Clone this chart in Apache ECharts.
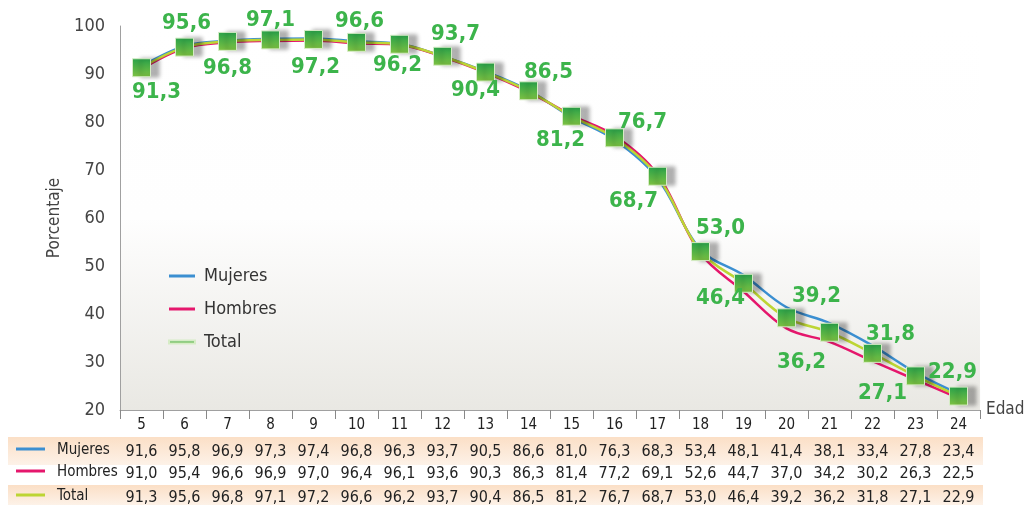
<!DOCTYPE html>
<html>
<head>
<meta charset="utf-8">
<script src="https://cdn.jsdelivr.net/npm/echarts@6/dist/echarts.min.js"></script>
<style>html,body{margin:0;padding:0;background:#fff;overflow:hidden;}#c{width:1024px;height:505px;}</style>
</head>
<body>
<div id="c"></div>
<script>
const categories = ['5','6','7','8','9','10','11','12','13','14','15','16','17','18','19','20','21','22','23','24'];
const mujeres = [91.6,95.8,96.9,97.3,97.4,96.8,96.3,93.7,90.5,86.6,81.0,76.3,68.3,53.4,48.1,41.4,38.1,33.4,27.8,23.4];
const hombres = [91.0,95.4,96.6,96.9,97.0,96.4,96.1,93.6,90.3,86.3,81.4,77.2,69.1,52.6,44.7,37.0,34.2,30.2,26.3,22.5];
const total   = [91.3,95.6,96.8,97.1,97.2,96.6,96.2,93.7,90.4,86.5,81.2,76.7,68.7,53.0,46.4,39.2,36.2,31.8,27.1,22.9];
const seriesNames = ['Mujeres','Hombres','Total'];

// label placement (style only)
const labelOffsets = [[15,25],[2,-24],[0,27],[0,-20],[2,28],[3,-21],[-2,21],[13,-22],[-10,18],[20,-19],
  [-11,24],[28,-16],[-24,25],[20,-23],[-23,15],[30,-22],[-28,30],[18,-19],[-33,17],[-6,-24]];

const COLORS = ['#3b8fd1','#e5176c','#bdd534'];
const FONT = '"Liberation Sans Narrow","DejaVu Sans Condensed","Liberation Sans",sans-serif';
const fmt = v => v.toFixed(1).replace('.', ',');

const chart = echarts.init(document.getElementById('c'), null, {renderer:'canvas'});

const rowAxes = [mujeres, hombres, total].map((arr, k) => ({
  type:'category', data:categories, position:'bottom', gridIndex:0,
  offset:[42,64,88][k],
  axisLine:{show:false}, axisTick:{show:false}, splitLine:{show:false},
  axisLabel:{margin:0, verticalAlign:'middle', fontFamily:FONT, fontSize:16, color:'#222',
    formatter:(v,i)=>fmt(arr[i])}
}));

const rowYs = [452,474,498];
const peach = () => new echarts.graphic.LinearGradient(0,0,0,1,[{offset:0,color:'#fbdfc6'},{offset:1,color:'#fdf2e8'}]);
const graphics = [
  {type:'rect', z:-10, shape:{x:8,y:437,width:975,height:28}, style:{fill:peach()}},
  {type:'rect', z:-10, shape:{x:8,y:485,width:975,height:20}, style:{fill:peach()}}
];
seriesNames.forEach((n,k)=>{
  graphics.push({type:'line', shape:{x1:16,y1:rowYs[k]-3,x2:45,y2:rowYs[k]-3}, style:{stroke:COLORS[k], lineWidth:3}});
  graphics.push({type:'text', left:57, top:rowYs[k]-9, style:{text:n, font:'15px '+FONT, fill:'#222'}});
});

const option = {
  animation:false,
  backgroundColor:'#fff',
  grid:{left:120, right:44, top:26, bottom:95, show:true, borderWidth:0, outerBoundsMode:'none', containLabel:false,
    backgroundColor:new echarts.graphic.LinearGradient(0,0,0,1,[
      {offset:0,color:'#ffffff'},{offset:0.5,color:'#fefefe'},{offset:1,color:'#e9e8e3'}])},
  legend:{orient:'vertical', left:163, top:262, itemGap:15, itemWidth:26, itemHeight:3, icon:'rect',
    data:seriesNames, textStyle:{fontFamily:FONT, fontSize:18, color:'#333', padding:[0,0,0,4]}},
  xAxis:[{
    type:'category', data:categories, boundaryGap:true,
    name:'Edad', nameLocation:'end', nameGap:6,
    nameTextStyle:{fontFamily:FONT, fontSize:17, color:'#444', verticalAlign:'middle', padding:[6,0,0,0]},
    axisLine:{lineStyle:{color:'#a0a0a0', width:1}},
    axisTick:{show:true, length:9, lineStyle:{color:'#888'}},
    axisLabel:{fontFamily:FONT, fontSize:15, color:'#222', margin:8},
    splitLine:{show:false}
  }].concat(rowAxes),
  yAxis:{type:'value', min:20, max:100, interval:10,
    name:'Porcentaje', nameLocation:'middle', nameGap:56,
    nameTextStyle:{fontFamily:FONT, fontSize:17, color:'#444'},
    axisLine:{show:true, lineStyle:{color:'#a0a0a0'}},
    axisTick:{show:false},
    axisLabel:{fontFamily:FONT, fontSize:18, color:'#444', margin:15},
    splitLine:{show:false}},
  graphic:graphics,
  series:[
    {name:'Mujeres', type:'line', data:mujeres, smooth:0.35, symbol:'none', lineStyle:{color:COLORS[0], width:2.5}, itemStyle:{color:COLORS[0]}, z:2},
    {name:'Hombres', type:'line', data:hombres, smooth:0.35, symbol:'none', lineStyle:{color:COLORS[1], width:2.5}, itemStyle:{color:COLORS[1]}, z:3},
    {name:'Total', type:'line', smooth:0.35, symbol:'rect', symbolSize:18, z:4,
      lineStyle:{color:COLORS[2], width:2.5},
      itemStyle:{
        color:new echarts.graphic.LinearGradient(0,0,0,1,[{offset:0,color:'#28a24a'},{offset:1,color:'#7fc242'}]),
        borderColor:'#d6ecc6', borderWidth:1,
        shadowColor:'rgba(0,0,0,0.3)', shadowBlur:4, shadowOffsetX:8, shadowOffsetY:0},
      data:total.map((v,i)=>({value:v, label:{offset:labelOffsets[i]}})),
      label:{show:true, position:'inside', formatter:p=>fmt(p.value),
        fontFamily:FONT, fontSize:22, fontWeight:'bold', color:'#3cb44b'}
    }
  ]
};
chart.setOption(option);
</script>
</body>
</html>
